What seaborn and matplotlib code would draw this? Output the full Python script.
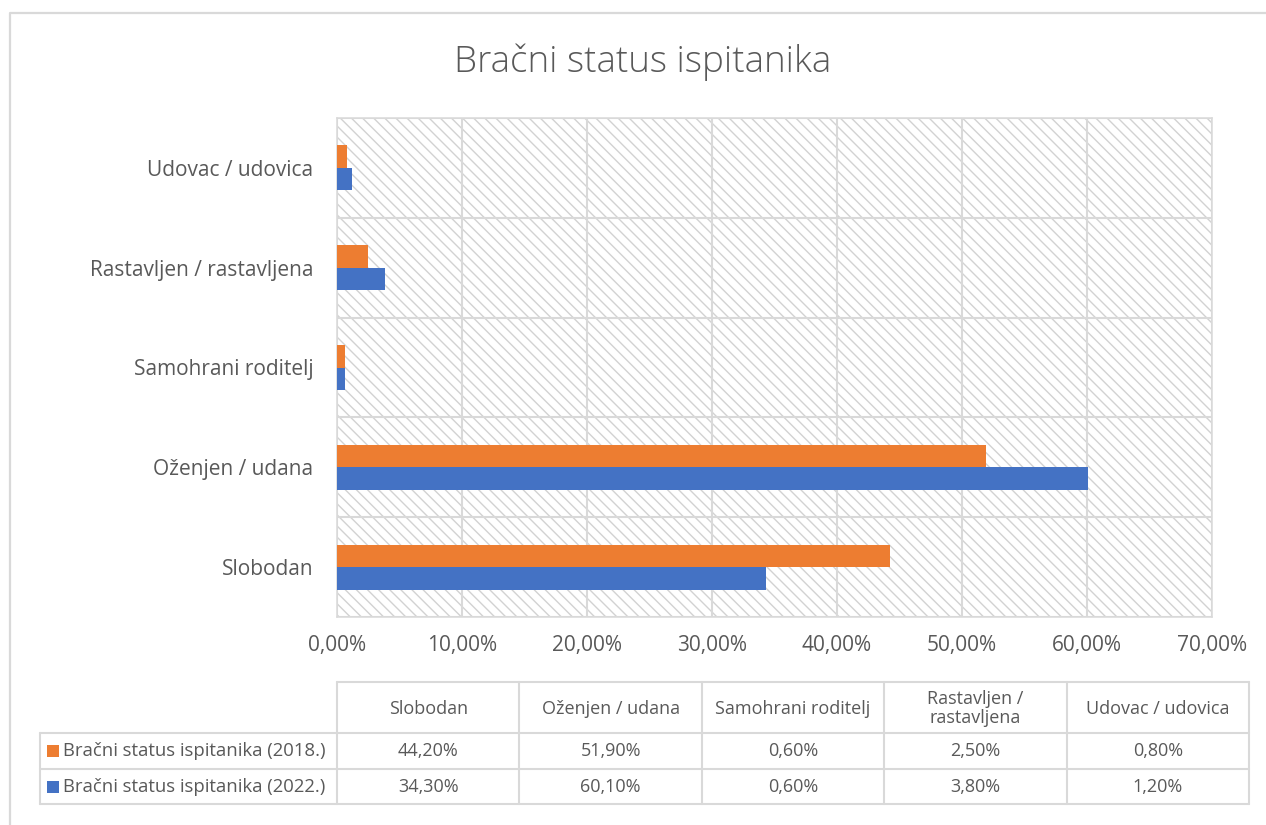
import matplotlib
matplotlib.use("Agg")
import matplotlib.pyplot as plt
from matplotlib.patches import Rectangle
import seaborn as sns
import pandas as pd

# data
categories = ["Slobodan", "Oženjen / udana", "Samohrani roditelj",
              "Rastavljen / rastavljena", "Udovac / udovica"]
header_labels = ["Slobodan", "Oženjen / udana", "Samohrani roditelj",
                 "Rastavljen /\nrastavljena", "Udovac / udovica"]
series_names = ["Bračni status ispitanika (2018.)", "Bračni status ispitanika (2022.)"]
values_2018 = [44.2, 51.9, 0.6, 2.5, 0.8]
values_2022 = [34.3, 60.1, 0.6, 3.8, 1.2]
x_ticks = [0, 10, 20, 30, 40, 50, 60, 70]

colors = ["#ED7D31", "#4472C4"]
txt = "#595959"
grid = "#d9d9d9"


def pct(v):
    return f"{v:.2f}".replace(".", ",") + "%"


df = pd.DataFrame({
    "kategorija": categories * 2,
    "serija": [series_names[0]] * 5 + [series_names[1]] * 5,
    "vrijednost": values_2018 + values_2022,
})

sns.set_theme(style="white")
plt.rcParams["font.family"] = ["Open Sans", "DejaVu Sans"]
plt.rcParams["hatch.color"] = "#d2d2d2"
plt.rcParams["hatch.linewidth"] = 1.0

W, H = 1266, 825
fig = plt.figure(figsize=(W / 100, H / 100), dpi=100)
ax = fig.add_axes([337 / W, 208 / H, (1212 - 337) / W, (617 - 118) / H])

# hatched plot area background
ax.add_patch(Rectangle((0, 0), 1, 1, transform=ax.transAxes, facecolor="white",
                       edgecolor="#d2d2d2", hatch="\\\\\\", lw=0, zorder=0))

sns.barplot(data=df, x="vrijednost", y="kategorija", hue="serija",
            order=categories[::-1], hue_order=series_names, palette=colors,
            orient="h", width=0.45, saturation=1, legend=False, linewidth=0,
            ax=ax, zorder=3)

ax.set_xlim(0, 70)
ax.set_ylim(len(categories) - 0.5, -0.5)
ax.set_xticks(x_ticks)
ax.set_xticklabels([pct(t) for t in x_ticks])
ax.set_yticks(range(len(categories)), minor=False)
ax.set_yticks([i - 0.5 for i in range(len(categories) + 1)], minor=True)
ax.set_xlabel("")
ax.set_ylabel("")
ax.grid(axis="x", color=grid, lw=1.5, zorder=1)
ax.grid(axis="y", which="minor", color=grid, lw=1.5, zorder=1)
ax.set_axisbelow(True)
ax.tick_params(axis="x", length=0, pad=13, labelsize=15, labelcolor=txt)
ax.tick_params(axis="y", which="major", length=0, pad=17, labelsize=15, labelcolor=txt)
ax.tick_params(axis="y", which="minor", length=5, width=1.1, color=grid, direction="out")
for s in ax.spines.values():
    s.set_color(grid)
    s.set_linewidth(1.1)
    s.set_visible(True)

# title
fig.text(643 / W, 1 - 62 / H, "Bračni status ispitanika", ha="center", va="center",
         fontsize=26.5, color=txt, fontweight="light")

# overlay in pixel coordinates for the frame and the data table
ov = fig.add_axes([0, 0, 1, 1], zorder=-1)
ov.set_xlim(0, W)
ov.set_ylim(H, 0)
ov.axis("off")
ov.plot([10, 10, W], [H, 13, 13], color=grid, lw=1.6)

col_w = (1249 - 337) / 5
col_x = [337 + i * col_w for i in range(6)]
rows = [682, 733, 769, 804]
tl = dict(color=grid, lw=1.5)
# horizontal lines
ov.plot([337, col_x[-1]], [rows[0]] * 2, **tl)
for r in rows[1:]:
    ov.plot([40, col_x[-1]], [r] * 2, **tl)
# vertical lines
ov.plot([40, 40], [rows[1], rows[3]], **tl)
for cx in col_x:
    ov.plot([cx, cx], [rows[0], rows[3]], **tl)

for i, lab in enumerate(header_labels):
    ov.text((col_x[i] + col_x[i + 1]) / 2, (rows[0] + rows[1]) / 2 + 1, lab,
            ha="center", va="center", fontsize=13, color=txt, linespacing=1.05)
for j, vals in enumerate([values_2018, values_2022]):
    yc = (rows[j + 1] + rows[j + 2]) / 2
    ov.add_patch(Rectangle((47, yc - 6), 12, 12, facecolor=colors[j], lw=0))
    ov.text(63, yc, series_names[j], ha="left", va="center", fontsize=13.3, color=txt)
    for i, v in enumerate(vals):
        ov.text((col_x[i] + col_x[i + 1]) / 2, yc, pct(v), ha="center", va="center",
                fontsize=13, color=txt)

fig.savefig("out.png", dpi=100, facecolor="white")
